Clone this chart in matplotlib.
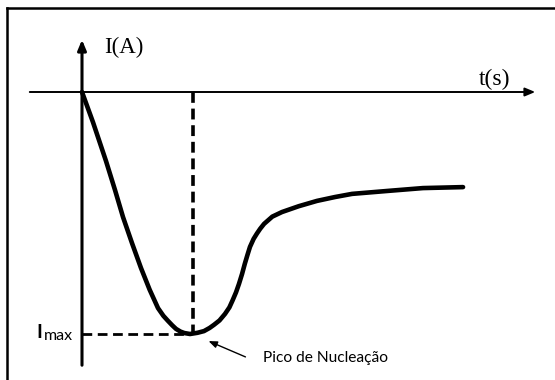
import matplotlib
matplotlib.use("Agg")
import matplotlib.pyplot as plt
import numpy as np

# chronoamperogram sketch (arbitrary units, t_peak ~ 1, I_max = -1)
t = [0.0, 0.10, 0.218, 0.30, 0.373, 0.455, 0.536, 0.615, 0.691, 0.74, 0.78, 0.82, 0.855,
     0.895, 0.93, 0.982, 1.05, 1.109, 1.16, 1.2, 1.25, 1.3, 1.34, 1.37, 1.40, 1.427, 1.455,
     1.48, 1.505, 1.527, 1.56, 1.59, 1.62, 1.655, 1.73, 1.818, 1.97, 2.136, 2.30, 2.455,
     2.773, 3.1, 3.464]
current = [0.0, -0.125, -0.285, -0.405, -0.517, -0.625, -0.727, -0.817, -0.893, -0.925,
           -0.945, -0.964, -0.979, -0.99, -0.996, -1.0, -0.995, -0.988, -0.975, -0.962,
           -0.944, -0.917, -0.89, -0.86, -0.828, -0.793, -0.752, -0.71, -0.672, -0.640,
           -0.607, -0.585, -0.565, -0.545, -0.515, -0.496, -0.472, -0.450, -0.434, -0.421,
           -0.409, -0.397, -0.393]
t_peak = 0.982
i_max = -1.0

# pixel -> data mapping of the sketch: origin at (82, 92), 110 px per t unit, 242 px per I unit
PX_T = 110.0
PX_I = 242.0
W, H = 555, 380
X0, Y0 = 82, 92

fig = plt.figure(figsize=(W / 100, H / 100), dpi=100)
ax = fig.add_axes([0, 0, 1, 1])
ax.set_xlim(-X0 / PX_T, (W - X0) / PX_T)
ax.set_ylim(-(H - Y0) / PX_I, Y0 / PX_I)
ax.axis('off')

def px(x, y):
    return (x - X0) / PX_T, -(y - Y0) / PX_I

# frame (left and top edges only)
fig.add_artist(plt.Line2D([7 / W, 7 / W], [0, 1 - 8 / H], color='black', lw=1.8))
fig.add_artist(plt.Line2D([7 / W, 1], [1 - 8 / H, 1 - 8 / H], color='black', lw=1.8))

# axes with arrows
ax.annotate('', xy=px(538, 92), xytext=px(27, 92),
            arrowprops=dict(arrowstyle='-|>,head_length=0.6,head_width=0.25', color='black', lw=1.4))
ax.annotate('', xy=px(82, 37), xytext=px(82, 368),
            arrowprops=dict(arrowstyle='-|>,head_length=0.6,head_width=0.25', color='black', lw=2.2))

# dashed guides
ax.plot([t_peak + 0.03, t_peak + 0.03], [0, i_max], color='black', lw=2.6, ls=(0, (3.0, 1.6)))
ax.plot([0, t_peak], [i_max, i_max], color='black', lw=2.0, ls=(0, (3.5, 2.0)))

# curve
ax.plot(t, current, color='black', lw=3.3, solid_capstyle='round', solid_joinstyle='round')

# labels
ax.text(*px(104, 47), 'I(A)', fontsize=16.5, family='Liberation Serif', va='center', ha='left')
ax.text(*px(479, 79), 't(s)', fontsize=17, family='Liberation Serif', va='center', ha='left')
ax.text(*px(36, 333), 'I', fontsize=14, family='Lato', fontweight='bold', va='center', ha='left')
ax.text(*px(44, 336), 'max', fontsize=11.5, family='Lato', va='center', ha='left')
ax.text(*px(263, 358), 'Pico de Nucleação', fontsize=11.2, family='Lato', va='center', ha='left')
ax.annotate('', xy=px(206, 340), xytext=px(248, 358),
            arrowprops=dict(arrowstyle='-|>,head_length=0.5,head_width=0.2', color='black', lw=1.0))

fig.savefig('out.png', dpi=100, facecolor='white')
